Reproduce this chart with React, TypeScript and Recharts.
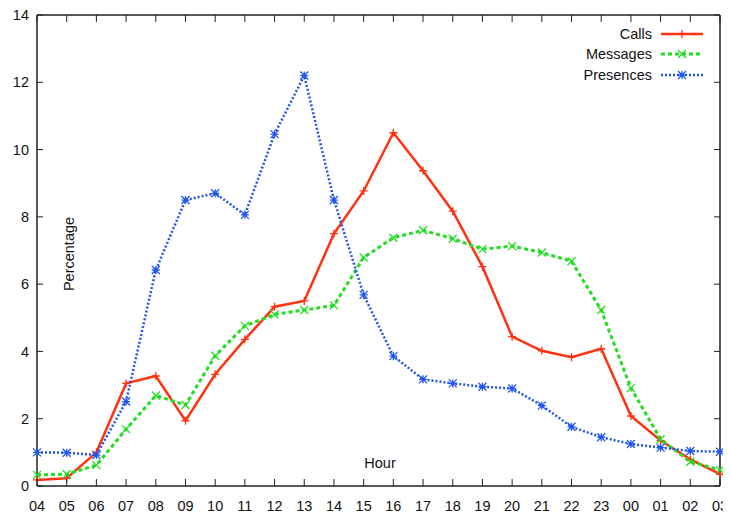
import { LineChart, Line, XAxis, YAxis, ReferenceLine } from "recharts";

const hours = ["04", "05", "06", "07", "08", "09", "10", "11", "12", "13", "14", "15", "16", "17", "18", "19", "20", "21", "22", "23", "00", "01", "02", "03"];
const calls = [0.18, 0.23, 1.0, 3.05, 3.27, 1.94, 3.32, 4.36, 5.33, 5.5, 7.5, 8.77, 10.5, 9.37, 8.17, 6.52, 4.44, 4.02, 3.83, 4.08, 2.08, 1.35, 0.79, 0.35];
const messages = [0.33, 0.35, 0.62, 1.69, 2.69, 2.41, 3.87, 4.76, 5.1, 5.23, 5.37, 6.79, 7.38, 7.6, 7.35, 7.04, 7.13, 6.94, 6.68, 5.23, 2.91, 1.39, 0.72, 0.48];
const presences = [1.0, 0.99, 0.92, 2.51, 6.42, 8.5, 8.7, 8.06, 10.46, 12.2, 8.5, 5.68, 3.86, 3.17, 3.05, 2.95, 2.9, 2.39, 1.76, 1.45, 1.25, 1.14, 1.04, 1.02];
const yTicks = [0, 2, 4, 6, 8, 10, 12, 14];

const data = hours.map((h, i) => ({ hour: h, calls: calls[i], messages: messages[i], presences: presences[i] }));

const FONT = "'Liberation Sans', Arial, sans-serif";
const AXIS = "#222";
const RED = "#ff3311";
const GREEN = "#22dd22";
const BLUE = "#2255ee";
const FS = 14.5;

const W = 731;
const H = 521;
const MARGIN = { top: 15, right: 11, left: 0, bottom: 5 };
const PLOT_TOP = MARGIN.top;
const PLOT_RIGHT = W - MARGIN.right;

type MarkKind = "plus" | "cross" | "star";

function markPath(kind: MarkKind, cx: number, cy: number) {
  const s = 4;
  const plus = `M${cx - s},${cy}H${cx + s}M${cx},${cy - s}V${cy + s}`;
  const cross = `M${cx - s},${cy - s}L${cx + s},${cy + s}M${cx - s},${cy + s}L${cx + s},${cy - s}`;
  if (kind === "plus") return plus;
  if (kind === "cross") return cross;
  return plus + cross;
}

function makeDot(kind: MarkKind, color: string) {
  return (props: any) => {
    const { cx, cy, index } = props;
    return <path key={`m-${kind}-${index}`} d={markPath(kind, cx, cy)} stroke={color} strokeWidth={1.3} fill="none" />;
  };
}

const series = [
  { key: "calls", name: "Calls", color: RED, dash: undefined as string | undefined, width: 2.5, mark: "plus" as MarkKind },
  { key: "messages", name: "Messages", color: GREEN, dash: "4 3", width: 3, mark: "cross" as MarkKind },
  { key: "presences", name: "Presences", color: BLUE, dash: "2 2", width: 2.5, mark: "star" as MarkKind },
];

// gnuplot style: ticks point into the plot, mirrored on top and right
const X_MARGIN = 15;
const Y_MARGIN = 8;

function BottomTick(props: any) {
  const { x, y, payload } = props;
  const axisY = y - X_MARGIN;
  return (
    <g>
      <line x1={x} y1={axisY} x2={x} y2={axisY - 7} stroke={AXIS} strokeWidth={1} />
      <line x1={x} y1={PLOT_TOP} x2={x} y2={PLOT_TOP + 7} stroke={AXIS} strokeWidth={1} />
      <text x={x} y={y} dy="0.71em" textAnchor="middle" fontFamily={FONT} fontSize={FS} fill="#111">
        {payload.value}
      </text>
    </g>
  );
}

function LeftTick(props: any) {
  const { x, y, payload } = props;
  const axisX = x + Y_MARGIN;
  return (
    <g>
      <line x1={axisX} y1={y} x2={axisX + 6} y2={y} stroke={AXIS} strokeWidth={1} />
      <line x1={PLOT_RIGHT} y1={y} x2={PLOT_RIGHT - 6} y2={y} stroke={AXIS} strokeWidth={1} />
      <text x={x} y={y} dy="0.355em" textAnchor="end" fontFamily={FONT} fontSize={FS} fill="#111">
        {payload.value}
      </text>
    </g>
  );
}

export default function App() {
  return (
    <div style={{ position: "relative", width: W, height: H, margin: -8, background: "#fff" }}>
      <LineChart width={W} height={H} data={data} margin={MARGIN}>
        <XAxis
          dataKey="hour"
          interval={0}
          tickLine={false}
          tickSize={0}
          tickMargin={X_MARGIN}
          height={30}
          axisLine={{ stroke: AXIS, strokeWidth: 1.5 }}
          tick={<BottomTick />}
        />
        <YAxis
          domain={[0, 14]}
          ticks={yTicks}
          interval={0}
          tickLine={false}
          tickSize={0}
          tickMargin={Y_MARGIN}
          width={37}
          axisLine={{ stroke: AXIS, strokeWidth: 1.5 }}
          tick={<LeftTick />}
        />
        <ReferenceLine y={14} stroke={AXIS} strokeWidth={1.5} />
        <ReferenceLine x={hours[hours.length - 1]} stroke={AXIS} strokeWidth={1.5} />
        {series.map((s) => (
          <Line
            key={s.key}
            type="linear"
            dataKey={s.key}
            stroke={s.color}
            strokeWidth={s.width}
            strokeDasharray={s.dash}
            dot={makeDot(s.mark, s.color)}
            activeDot={false}
            isAnimationActive={false}
          />
        ))}
      </LineChart>

      <div
        style={{
          position: "absolute",
          left: 69,
          top: 254,
          transform: "translate(-50%, -50%) rotate(-90deg)",
          fontFamily: FONT,
          fontSize: FS,
          color: "#111",
          whiteSpace: "nowrap",
        }}
      >
        Percentage
      </div>
      <div
        style={{
          position: "absolute",
          left: 380,
          top: 463,
          transform: "translate(-50%, -50%)",
          fontFamily: FONT,
          fontSize: FS,
          color: "#111",
        }}
      >
        Hour
      </div>

      {series.map((s, i) => (
        <div
          key={s.key}
          style={{
            position: "absolute",
            left: 500,
            top: 24 + i * 20.3,
            width: 204,
            height: 20,
            display: "flex",
            alignItems: "center",
            justifyContent: "flex-end",
            fontFamily: FONT,
            fontSize: FS,
            color: "#111",
          }}
        >
          <span>{s.name}</span>
          <svg width={44} height={12} style={{ marginLeft: 8 }}>
            <line x1={1} y1={6} x2={43} y2={6} stroke={s.color} strokeWidth={s.width} strokeDasharray={s.dash} />
            <path d={markPath(s.mark, 22, 6)} stroke={s.color} strokeWidth={1.3} fill="none" />
          </svg>
        </div>
      ))}
    </div>
  );
}
